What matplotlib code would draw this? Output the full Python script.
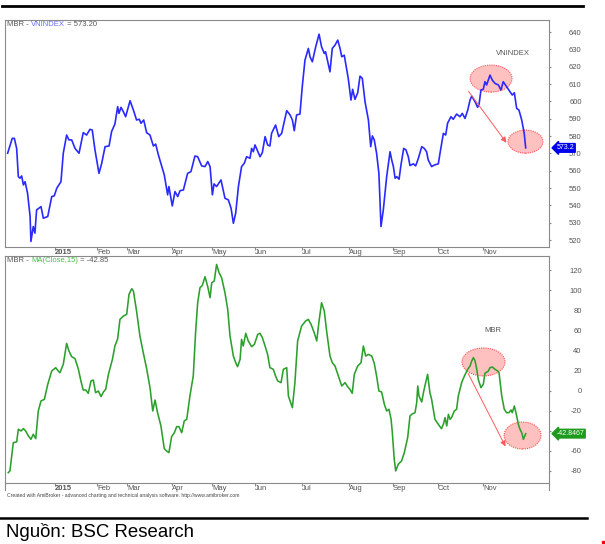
import matplotlib
matplotlib.use("Agg")
import matplotlib.pyplot as plt
from matplotlib.patches import Ellipse, Rectangle
from matplotlib.lines import Line2D
from matplotlib.transforms import blended_transform_factory

plt.rcParams['font.family'] = ['Liberation Sans', 'DejaVu Sans']
plt.rcParams['axes.unicode_minus'] = False

# x axis = trading-day index (first bar early Dec 2014)
month_pos = [22.9, 42.9, 57.1, 78.6, 97.6, 118.1, 140.5, 162.9, 183.8, 205.2, 226.7]
month_labels = ['2015', 'Feb', 'Mar', 'Apr', 'May', 'Jun', 'Jul', 'Aug', 'Sep', 'Oct', 'Nov']

# VNINDEX close
vn_day = [0.3, 2.5, 3.5, 4.6, 5.4, 6.2, 7.0, 7.8, 8.6, 9.8, 11.0, 11.4, 12.5, 13.3, 14.1,
          16.2, 17.3, 19.4, 21.3, 22.5, 23.7, 25.7, 26.8, 28.4, 29.5, 30.8, 32.4, 34.3,
          36.3, 37.9, 39.5, 40.6, 41.9, 43.8, 45.1, 46.7, 48.6, 49.8, 51.4, 52.7, 53.3,
          54.3, 55.4, 56.5, 58.6, 60.2, 61.7, 63.0, 63.8, 65.1, 66.5, 68.1, 69.7, 70.8,
          72.1, 74.9, 76.5, 77.1, 78.7, 80.0, 81.3, 82.4, 84.0, 86.0, 87.6, 89.5, 90.8,
          92.7, 94.3, 95.6, 96.7, 97.8, 98.6, 99.8, 101.9, 103.8, 105.4, 106.7, 107.8,
          108.9, 110.2, 111.7, 113.0, 114.1, 115.7, 116.5, 117.3, 118.1, 120.5, 121.6,
          122.9, 124.1, 125.2, 126.0, 127.9, 129.4, 130.8, 133.2, 134.8, 135.9, 136.8,
          137.9, 139.5, 140.6, 141.9, 143.5, 144.3, 145.4, 147.0, 148.6, 149.8, 151.1,
          151.7, 153.8, 154.9, 156.2, 157.5, 158.6, 159.4, 160.6, 162.5, 163.8, 164.6,
          165.7, 167.0, 168.1, 169.2, 170.5, 172.1, 173.2, 174.0, 174.9, 176.0, 177.1,
          178.1, 179.2, 180.8, 182.4, 183.2, 184.0, 184.8, 185.6, 186.7, 187.6, 188.9,
          190.0, 191.1, 191.9, 193.5, 194.6, 195.9, 197.5, 198.7, 199.8, 200.6, 202.2,
          203.5, 205.4, 206.2, 207.8, 208.9, 209.8, 211.4, 212.5, 214.1, 215.7, 216.8,
          218.1, 219.4, 220.5, 221.3, 222.9, 224.1, 224.8, 225.7, 226.8, 227.6, 228.4,
          229.2, 230.0, 231.1, 232.4, 234.0, 235.2, 236.3, 237.9, 239.5, 240.6, 241.6,
          242.7, 243.8, 245.1, 246.3, 247.0]
vn_close = [570.1, 578.7, 578.7, 572.9, 556.6, 555.7, 557.0, 551.8, 553.7, 547.0, 533.6,
            519.2, 527.8, 524.0, 537.4, 539.3, 532.6, 533.6, 545.1, 545.5, 549.9, 553.7,
            570.1, 580.6, 577.8, 577.8, 572.9, 570.1, 582.0, 580.6, 583.9, 583.5, 572.0,
            558.5, 564.3, 573.9, 574.3, 582.6, 587.0, 597.0, 593.1, 596.6, 594.1, 591.2,
            600.4, 595.0, 589.3, 589.7, 587.4, 589.3, 582.0, 580.6, 574.3, 575.4, 569.1,
            557.6, 546.1, 550.9, 539.7, 548.0, 545.1, 548.5, 548.9, 558.5, 559.5, 568.5,
            568.1, 562.8, 562.4, 565.3, 562.4, 546.1, 552.4, 550.9, 554.7, 544.1, 543.2,
            538.4, 529.7, 535.5, 550.9, 562.4, 564.3, 568.1, 567.2, 572.9, 571.0, 574.9,
            568.1, 570.5, 579.7, 574.9, 574.3, 581.6, 586.4, 579.7, 581.6, 594.7, 592.2,
            589.3, 583.1, 592.2, 592.7, 608.5, 623.9, 630.6, 625.8, 622.9, 631.5, 638.8,
            631.5, 627.7, 628.7, 617.1, 630.6, 632.5, 635.4, 630.6, 625.8, 626.7, 613.3,
            600.8, 607.0, 601.2, 605.0, 614.6, 613.3, 599.8, 589.3, 573.9, 580.1, 577.8,
            570.1, 558.5, 527.8, 537.4, 556.6, 571.0, 566.2, 562.4, 555.7, 556.6, 555.1,
            563.3, 572.9, 572.0, 568.1, 563.0, 564.0, 562.8, 567.2, 573.9, 572.9, 571.0,
            566.2, 562.4, 563.3, 564.0, 570.1, 581.6, 580.6, 587.4, 591.2, 589.7, 592.7,
            591.2, 593.1, 590.2, 595.0, 600.8, 603.1, 599.8, 596.6, 598.5, 606.6, 607.0,
            611.4, 609.5, 612.3, 615.2, 612.3, 610.4, 609.5, 606.6, 611.4, 608.5, 605.6,
            603.7, 605.0, 596.0, 595.0, 589.3, 581.6, 573.2]

# MBR - MA(Close,15)
mbr_day = [0.6, 1.4, 3.0, 4.6, 5.4, 6.7, 7.8, 8.9, 10.2, 11.4, 12.5, 13.7, 14.9, 16.2,
           17.8, 19.4, 21.3, 23.2, 24.4, 25.2, 26.8, 28.4, 29.5, 30.8, 32.4, 34.0, 35.2,
           36.3, 37.5, 38.7, 40.0, 41.1, 42.2, 43.5, 44.8, 45.9, 47.0, 48.3, 50.2, 51.4,
           52.7, 53.8, 55.4, 57.0, 58.1, 59.4, 60.2, 61.7, 63.3, 64.9, 66.5, 68.1, 69.4,
           70.5, 71.7, 73.3, 74.9, 76.0, 77.1, 78.4, 79.7, 80.8, 81.9, 83.2, 84.4, 85.6,
           87.1, 88.7, 89.8, 90.8, 91.9, 93.0, 94.3, 95.6, 96.7, 97.5, 98.7, 99.8, 101.0,
           102.2, 103.8, 105.1, 106.2, 107.8, 108.9, 109.8, 111.0, 111.7, 112.5, 113.7,
           114.9, 116.5, 117.8, 119.4, 120.5, 121.6, 122.9, 124.1, 125.2, 126.8, 127.9,
           128.9, 130.5, 131.6, 133.2, 134.0, 135.9, 137.1, 138.4, 140.3, 142.2, 143.5,
           144.8, 146.3, 147.5, 148.6, 149.8, 151.1, 152.2, 153.8, 154.9, 156.2, 157.8,
           159.4, 161.0, 162.2, 163.3, 164.4, 165.4, 167.0, 168.6, 169.7, 170.8, 172.1,
           173.7, 174.9, 176.0, 177.1, 178.4, 179.7, 180.8, 181.9, 182.9, 183.5, 184.4,
           185.1, 186.3, 187.9, 189.2, 190.8, 191.9, 192.7, 194.3, 195.1, 195.6, 196.2,
           197.5, 198.3, 199.0, 200.3, 201.4, 202.2, 203.8, 205.4, 206.9, 207.8, 208.6,
           209.4, 210.2, 211.0, 211.7, 213.0, 214.1, 214.9, 216.5, 217.8, 219.4, 220.5,
           221.3, 222.1, 222.9, 223.7, 224.4, 225.7, 226.8, 227.6, 229.2, 230.0, 231.1,
           232.4, 233.7, 234.3, 235.6, 236.8, 237.9, 239.0, 240.0, 240.6, 241.6, 242.7,
           243.5, 244.3, 245.1, 245.9, 247.0]
mbr_val = [-81.7, -80.0, -51.8, -51.1, -38.5, -40.2, -37.9, -40.2, -45.2, -48.5, -43.5,
           -47.8, -20.3, -10.3, -8.7, 6.2, 19.5, 22.8, 19.5, 17.8, 26.1, 47.0, 39.4, 33.8,
           31.8, 21.2, 9.6, 0.6, 0.6, -2.7, 9.6, 10.5, -2.1, -0.4, -6.0, -1.4, 1.3, 16.2,
           31.1, 44.4, 51.7, 70.9, 74.2, 75.9, 95.8, 101.4, 99.1, 79.2, 54.3, 37.7, 21.8,
           2.9, -20.3, -9.4, -22.0, -35.2, -57.8, -60.1, -61.8, -45.8, -41.9, -35.9, -35.9,
           -41.9, -30.2, -28.6, -5.4, 14.5, 57.6, 87.5, 102.4, 104.7, 113.4, 103.4, 92.5,
           107.4, 109.1, 125.6, 117.3, 112.4, 97.4, 80.9, 54.3, 34.4, 27.8, 23.8, 31.1,
           51.0, 44.4, 57.0, 49.4, 43.7, 46.0, 56.0, 57.0, 52.7, 44.4, 36.1, 22.8, 21.2,
           14.5, 9.6, 7.9, 21.2, 22.8, -5.4, -17.0, 7.9, 49.4, 64.3, 69.3, 70.9, 65.9, 57.6,
           49.4, 69.3, 87.5, 79.2, 59.3, 34.4, 27.8, 24.5, 14.5, 4.6, 7.9, 3.9, 1.3, -2.7,
           16.2, 24.5, 27.8, 44.4, 34.4, 36.1, 34.4, 27.1, 14.5, -0.4, -1.4, -13.7, -20.3,
           -18.6, -28.6, -41.9, -68.4, -80.0, -73.4, -70.0, -61.8, -46.8, -25.3, -23.6,
           -22.0, -12.0, 4.6, -5.4, -11.3, -2.1, 4.6, 16.2, -2.1, -8.7, -28.6, -33.6, -37.9,
           -33.6, -26.9, -35.2, -23.6, -28.6, -26.9, -20.3, -18.6, -5.4, 7.9, 14.5, 21.2,
           24.5, 29.5, 32.8, 29.5, 21.2, 11.2, 2.9, 6.2, 17.2, 19.5, 22.8, 23.5, 21.2, 19.5,
           17.8, -5.4, -18.6, -22.0, -22.0, -19.3, -22.0, -15.3, -25.3, -33.6, -38.5, -41.9,
           -48.5, -42.85]

vn_ticks = [520, 530, 540, 550, 560, 570, 580, 590, 600, 610, 620, 630, 640]
mbr_ticks = [-80, -60, -40, -20, 0, 20, 40, 60, 80, 100, 120]
# -40 sits under the last-value tag in the original, so its label is hidden
mbr_tick_labels = ['-80', '-60', '', '-20', '0', '20', '40', '60', '80', '100', '120']

W, H = 605, 544
fig = plt.figure(figsize=(W / 100, H / 100), dpi=100)
ax1 = fig.add_axes([5 / W, 1 - 247 / H, 544 / W, 227 / H])
ax2 = fig.add_axes([5 / W, 1 - 483 / H, 544 / W, 227 / H])

for ax, ticks in ((ax1, vn_ticks), (ax2, mbr_ticks)):
    for s in ax.spines.values():
        s.set_color('#8a8a8a')
        s.set_linewidth(0.8)
    ax.set_xlim(-0.95, 258.1)
    ax.yaxis.tick_right()
    ax.set_yticks(ticks)
    ax.set_xticks(month_pos, month_labels)
    ax.tick_params(axis='y', direction='out', length=1.5, pad=22, labelsize=5.5,
                   colors='#8a8a8a', labelcolor='#555555')
    ax.tick_params(axis='x', direction='out', length=2.2, pad=-0.6, labelsize=5.5,
                   colors='#8a8a8a', labelcolor='#555555')

ax2.set_yticks(mbr_ticks, mbr_tick_labels)
for ax in (ax1, ax2):
    for t in ax.get_yticklabels():
        t.set_ha('right')
    for t in ax.get_xticklabels():
        t.set_ha('left')
    ax.get_xticklabels()[0].set_fontweight('bold')

ax1.set_ylim(516, 647)
ax2.set_ylim(-92, 134)

ax1.plot(vn_day, vn_close, color='#2a2aff', lw=1.2, zorder=3)
ax2.plot(mbr_day, mbr_val, color='#2ca02c', lw=1.15, zorder=3)

# headers
def header(ax, parts):
    prev = ax.text(0.004, 0.978, parts[0][0], transform=ax.transAxes, fontsize=5.5,
                   color=parts[0][1], va='center', ha='left')
    for txt, col in parts[1:]:
        prev = ax.annotate(txt, xy=(1, 0), xycoords=prev, va='bottom', ha='left',
                           fontsize=5.5, color=col)

header(ax1, [('MBR - ', '#555555'), ('VNINDEX', '#6a6aff'), (' = 573.20', '#555555')])
header(ax2, [('MBR - ', '#555555'), ('MA(Close,15)', '#45c045'), (' = -42.85', '#555555')])

# pink highlight ellipses and arrows
pink = (1.0, 0.62, 0.62, 0.65)
for ax, cx, cy, w, h in ((ax1, 230.5, 613.2, 20.0, 15.6), (ax1, 246.9, 576.8, 16.7, 13.3),
                         (ax2, 226.9, 28.5, 20.5, 27.9), (ax2, 245.5, -44.7, 17.6, 26.9)):
    ax.add_patch(Ellipse((cx, cy), w, h, fc=pink, ec='#ff5050', ls=(0, (1, 1)), lw=0.8, zorder=2))

ax1.annotate('', xy=(238.6, 574.9), xytext=(219, 607.1),
             arrowprops=dict(arrowstyle='-|>', color='#ff5a5a', lw=0.7, mutation_scale=8))
ax2.annotate('', xy=(238.0, -58.1), xytext=(219, 19.5),
             arrowprops=dict(arrowstyle='-|>', color='#ff5a5a', lw=0.7, mutation_scale=8))

ax1.text(241, 627.9, 'VNINDEX', fontsize=5.5, color='#555555', ha='center', va='center')
ax2.text(231.4, 60.3, 'MBR', fontsize=5.5, color='#555555', ha='center', va='center')

# last value tags on the price axis
tr1 = blended_transform_factory(ax1.transAxes, ax1.transData)
ax1.text(1.014, vn_close[-1], '573.2', transform=tr1, fontsize=5, color='white',
         ha='left', va='center', clip_on=False, zorder=5,
         bbox=dict(boxstyle='larrow,pad=0.12', fc='#0000ee', ec='#0000ee'))
tr2 = blended_transform_factory(ax2.transAxes, ax2.transData)
ax2.text(1.014, mbr_val[-1], '-42.8467', transform=tr2, fontsize=5, color='white',
         ha='left', va='center', clip_on=False, zorder=5,
         bbox=dict(boxstyle='larrow,pad=0.12', fc='#1e9a1e', ec='#1e9a1e'))

# frame bits below lower panel
for x in (5, 549):
    fig.add_artist(Line2D([x / W, x / W], [1 - 483 / H, 1 - 490 / H], color='#8a8a8a', lw=0.8))

fig.text(7 / W, 1 - 496 / H, 'Created with AmiBroker - advanced charting and technical analysis '
         'software. http://www.amibroker.com', fontsize=3.6, color='#444444', va='center')

# page rules and source
fig.add_artist(Line2D([2 / W, 583 / W], [1 - 6 / H] * 2, color='black', lw=2))
fig.add_artist(Line2D([0, 587 / W], [1 - 518 / H] * 2, color='black', lw=1.8))
fig.text(6 / W, 1 - 532 / H, 'Nguồn: BSC Research', fontsize=13.4, color='black', va='center')
fig.add_artist(Rectangle((602 / W, 1 - 543 / H), 3 / W, 2 / H, color='red'))

fig.savefig('out.png', dpi=100)
